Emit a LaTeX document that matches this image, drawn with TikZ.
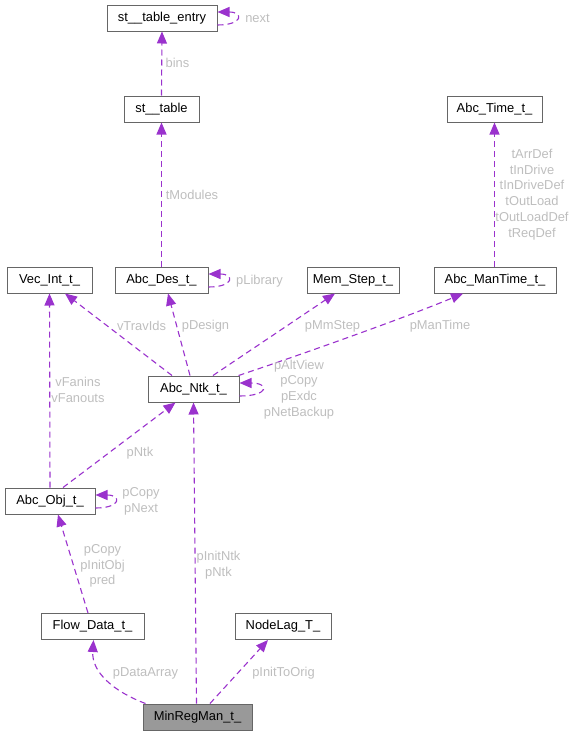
\documentclass[tikz,border=0pt]{standalone}
\usepackage{fontspec}
\setmainfont{Liberation Sans}
\usetikzlibrary{arrows.meta}
\definecolor{edgecol}{HTML}{9A32CD}
\definecolor{labcol}{HTML}{BEBEBE}
\definecolor{bordercol}{HTML}{666666}
\definecolor{mainfill}{HTML}{999999}
\tikzset{
  box/.style={draw=bordercol, fill=white, line width=1pt, minimum height=26pt, inner sep=0pt, font=\fontsize{12.9}{15}\selectfont},
  mainbox/.style={box, fill=mainfill},
  edge/.style={draw=edgecol, line width=1.1pt, dash pattern=on 6pt off 4pt, -{Triangle[length=12pt,width=10pt]}},
  lab/.style={text=labcol, font=\fontsize{12.9}{15.8}\selectfont, align=center, inner sep=0pt}
}
\begin{document}
\begin{tikzpicture}[x=1pt,y=-1pt]
\useasboundingbox (0,0) rectangle (575,736);
% nodes
\node[box, minimum width=110pt] (ste) at (162,18) {st\_\_table\_entry};
\node[box, minimum width=75pt] (st) at (161.5,109) {st\_\_table};
\node[box, minimum width=95pt] (time) at (494.5,109) {Abc\_Time\_t\_};
\node[box, minimum width=85pt] (vec) at (49.5,280) {Vec\_Int\_t\_};
\node[box, minimum width=93pt] (des) at (161.5,280) {Abc\_Des\_t\_};
\node[box, minimum width=92pt] (mem) at (353,280) {Mem\_Step\_t\_};
\node[box, minimum width=122pt] (mt) at (495,280) {Abc\_ManTime\_t\_};
\node[box, minimum width=91pt] (ntk) at (193.5,389) {Abc\_Ntk\_t\_};
\node[box, minimum width=90pt] (obj) at (50,501) {Abc\_Obj\_t\_};
\node[box, minimum width=103pt] (fd) at (92.5,626.5) {Flow\_Data\_t\_};
\node[box, minimum width=96pt] (nl) at (283,626.5) {NodeLag\_T\_};
\node[mainbox, minimum width=109pt] (mr) at (197.5,717) {MinRegMan\_t\_};
% edges
\draw[edge] (st.north) -- (ste.south);
\draw[edge] ([yshift=-7pt]ste.east) .. controls +(26pt,0pt) and +(26pt,0pt) .. ([yshift=6pt]ste.east);
\draw[edge] (des.north) -- (st.south);
\draw[edge] ([yshift=-7pt]des.east) .. controls +(26pt,0pt) and +(26pt,0pt) .. ([yshift=6pt]des.east);
\draw[edge] ([xshift=-0.5pt]mt.north) -- (time.south);
\draw[edge] ([xshift=-21.5pt]ntk.north) -- ([xshift=15.5pt]vec.south);
\draw[edge] ([xshift=-3.5pt]ntk.north) -- ([xshift=6.5pt]des.south);
\draw[edge] ([xshift=19.5pt]ntk.north) -- ([xshift=-18pt]mem.south);
\draw[edge] ([xshift=-1pt]ntk.north east) .. controls +(60pt,20pt) and +(-60pt,-25pt) .. ([xshift=-32pt]mt.south);
\draw[edge] ([yshift=-7pt]ntk.east) .. controls +(30pt,0pt) and +(30pt,0pt) .. ([yshift=6pt]ntk.east);
\draw[edge] (obj.north) -- (vec.south);
\draw[edge] ([xshift=13pt]obj.north) -- ([xshift=-18pt]ntk.south);
\draw[edge] ([yshift=-7pt]obj.east) .. controls +(26pt,0pt) and +(26pt,0pt) .. ([yshift=6pt]obj.east);
\draw[edge] ([xshift=-4.5pt]fd.north) -- ([xshift=8pt]obj.south);
\draw[edge] ([xshift=-52pt]mr.north) .. controls +(-32pt,12pt) and +(-2pt,-32pt) .. ([xshift=1pt]fd.south);
\draw[edge] ([xshift=-1pt]mr.north) -- (ntk.south);
\draw[edge] ([xshift=12.5pt]mr.north) -- ([xshift=-15pt]nl.south);
% labels
\node[lab] (lbins) at (177.5,63) {bins};
\node[lab] (lnext) at (257.5,18) {next};
\node[lab] (ltmod) at (192,195) {tModules};
\node[lab] (ltime) at (532,194.5) {tArrDef\\tInDrive\\tInDriveDef\\tOutLoad\\tOutLoadDef\\tReqDef};
\node[lab] (llib) at (259.5,281.5) {pLibrary};
\node[lab] (ltrav) at (141.5,326) {vTravIds};
\node[lab] (ldes) at (205.5,326) {pDesign};
\node[lab] (lmm) at (332.5,326) {pMmStep};
\node[lab] (lmt) at (440,326) {pManTime};
\node[lab] (lntk) at (299,389.5) {pAltView\\pCopy\\pExdc\\pNetBackup};
\node[lab] (lfan) at (78,389.5) {vFanins\\vFanouts};
\node[lab] (lpntk) at (140,453) {pNtk};
\node[lab] (lobj) at (141,501) {pCopy\\pNext};
\node[lab] (lfd) at (102.5,566) {pCopy\\pInitObj\\pred};
\node[lab] (linit) at (218.5,565) {pInitNtk\\pNtk};
\node[lab] (lda) at (145.5,673) {pDataArray};
\node[lab] (lito) at (283.5,673) {pInitToOrig};
\end{tikzpicture}
\end{document}
